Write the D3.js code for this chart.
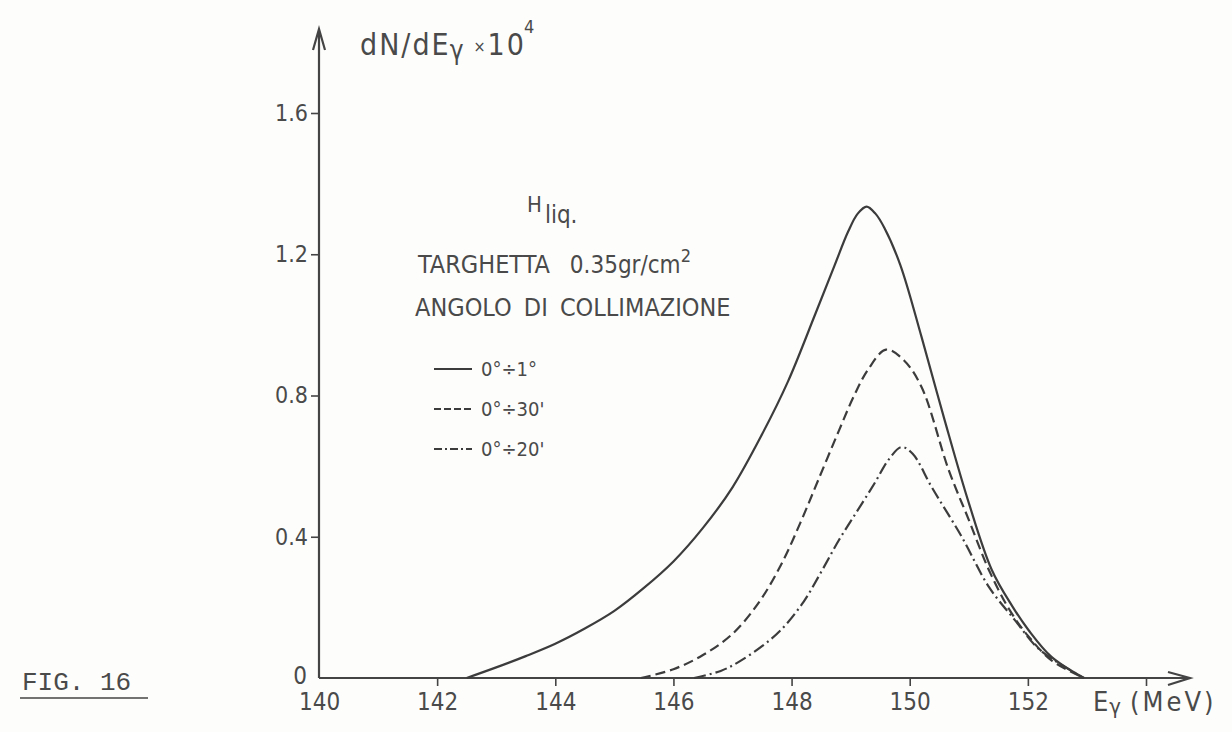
<!DOCTYPE html>
<html>
<head>
<meta charset="utf-8">
<script src="https://cdn.jsdelivr.net/npm/d3@7"></script>
<style>
    body { margin: 0; background: #fdfdfc; }
    svg text { font-family: "DejaVu Sans", sans-serif; font-stretch: condensed; fill: #4a4a4a; }
    .axis line { stroke: #444; stroke-width: 1.6; }
    .fig-label { font-family: "Liberation Mono", "DejaVu Sans Mono", monospace !important; font-stretch: normal !important; font-size: 26px; }
</style>
</head>
<body>
<svg id="chart"></svg>
<script>
// Photon spectrum dN/dE (x10^4) for three collimation angles
const xTicks = [140, 142, 144, 146, 148, 150, 152, 154];
const yTicks = [0, 0.4, 0.8, 1.2, 1.6];

const seriesNames = ['0°÷1°', '0°÷30\'', '0°÷20\''];

const energySolid = [142.5, 143.0, 143.5, 144.0, 144.5, 145.0, 145.5, 146.0, 146.5, 147.0, 147.5, 147.94, 148.4, 148.72, 148.96, 149.12, 149.27, 149.42, 149.57, 149.84, 150.2, 150.59, 151.0, 151.39, 151.73, 152.01, 152.4, 152.95];
const valuesSolid = [0, 0.03, 0.062, 0.097, 0.14, 0.19, 0.255, 0.33, 0.425, 0.54, 0.69, 0.84, 1.03, 1.165, 1.265, 1.315, 1.335, 1.315, 1.275, 1.17, 0.966, 0.731, 0.496, 0.306, 0.205, 0.136, 0.06, 0];

const energyDashed = [145.45, 146.0, 146.5, 147.0, 147.45, 147.82, 148.15, 148.45, 148.8, 149.06, 149.3, 149.6, 149.9, 150.2, 150.66, 151.0, 151.34, 151.7, 152.0, 152.4, 152.95];
const valuesDashed = [0, 0.025, 0.065, 0.125, 0.215, 0.32, 0.44, 0.56, 0.70, 0.80, 0.875, 0.93, 0.90, 0.824, 0.589, 0.448, 0.306, 0.19, 0.12, 0.05, 0];

const energyDashDot = [146.35, 146.8, 147.1, 147.5, 147.82, 148.2, 148.5, 148.8, 149.1, 149.4, 149.65, 149.86, 150.05, 150.37, 150.88, 151.34, 151.78, 152.2, 152.95];
const valuesDashDot = [0, 0.02, 0.045, 0.09, 0.136, 0.215, 0.30, 0.39, 0.47, 0.55, 0.62, 0.654, 0.635, 0.541, 0.40, 0.258, 0.164, 0.08, 0];

class SpectrumChart {
    constructor(_config) {
        this.config = {
            parentElement: _config.svgElement,
            width: _config.width,
            height: _config.height
        };
        this.series = [
            { name: seriesNames[0], x: energySolid, y: valuesSolid, dash: null, legendDash: null },
            { name: seriesNames[1], x: energyDashed, y: valuesDashed, dash: '10,5', legendDash: '7,3' },
            { name: seriesNames[2], x: energyDashDot, y: valuesDashDot, dash: '12,4,2,4', legendDash: '8,3,2,3' }
        ];
        this.initVis();
    }

    initVis() {
        let vis = this;

        vis.svg = d3.select(vis.config.parentElement)
            .attr('width', vis.config.width)
            .attr('height', vis.config.height);

        vis.xScale = d3.scaleLinear().domain([140, 154]).range([319, 1146]);
        vis.yScale = d3.scaleLinear().domain([0, 1.6]).range([678, 113]);

        vis.xAxis = d3.axisBottom(vis.xScale)
            .tickValues(xTicks)
            .tickSize(8)
            .tickFormat(d => d === 154 ? '' : d);
        vis.yAxis = d3.axisLeft(vis.yScale)
            .tickValues(yTicks)
            .tickSize(8)
            .tickPadding(3)
            .tickFormat(d => d === 0 ? '0' : d3.format('.1f')(d));

        // smooth hand-drawn look, passes through the read points
        vis.line = d3.line()
            .x(d => vis.xScale(d[0]))
            .y(d => vis.yScale(d[1]))
            .curve(d3.curveCatmullRom.alpha(0.5));

        vis.renderVis();
    }

    renderVis() {
        let vis = this;
        const x0 = vis.xScale(140), y0 = vis.yScale(0);

        // axes, drawn without the library's domain path
        const xAxisG = vis.svg.append('g')
            .attr('class', 'axis x-axis')
            .attr('transform', `translate(0,${y0})`)
            .call(vis.xAxis);
        xAxisG.select('.domain').remove();
        xAxisG.selectAll('.tick').filter(d => d === 140).select('line').remove();
        xAxisG.selectAll('text')
            .attr('y', 32).attr('dy', 0)
            .style('font-size', '24px');

        const yAxisG = vis.svg.append('g')
            .attr('class', 'axis y-axis')
            .attr('transform', `translate(${x0},0)`)
            .call(vis.yAxis);
        yAxisG.select('.domain').remove();
        yAxisG.selectAll('text').style('font-size', '23px');
        yAxisG.selectAll('.tick').filter(d => d === 0).select('line').remove();
        yAxisG.selectAll('.tick').filter(d => d === 0).select('text')
            .attr('x', -12).attr('dy', '0.22em').style('font-size', '24px');

        // axis lines with open arrow heads
        vis.svg.append('path')
            .attr('d', `M${x0},${y0}H1190M1168,672L1190,${y0}L1168,685`)
            .attr('fill', 'none').attr('stroke', '#444').attr('stroke-width', 2.2);
        vis.svg.append('path')
            .attr('d', `M${x0},${y0}V29M${x0 - 6},50L${x0},29L${x0 + 6},50`)
            .attr('fill', 'none').attr('stroke', '#444').attr('stroke-width', 2.2);

        // curves
        vis.svg.selectAll('.curve')
            .data(vis.series)
            .join('path')
            .attr('class', 'curve')
            .attr('d', s => vis.line(s.x.map((e, i) => [e, s.y[i]])))
            .attr('fill', 'none')
            .attr('stroke', '#3c3c3c')
            .attr('stroke-width', 2.2)
            .attr('stroke-dasharray', s => s.dash);

        // axis titles
        const yTitle = vis.svg.append('text').attr('x', 360).attr('y', 55)
            .style('font-size', '30px').style('letter-spacing', '2px');
        yTitle.append('tspan').text('dN/dE');
        yTitle.append('tspan').attr('dx', -1).attr('dy', 4).style('font-size', '26px').text('γ');
        yTitle.append('tspan').attr('dx', 8).attr('dy', -7).style('font-size', '16px').text('×');
        yTitle.append('tspan').attr('dy', 3).text('10');
        yTitle.append('tspan').attr('dx', -2).attr('dy', -22).style('font-size', '18px').text('4');

        const xTitle = vis.svg.append('text').attr('x', 1093).attr('y', 711).style('font-size', '27px');
        xTitle.append('tspan').text('E');
        xTitle.append('tspan').attr('dx', 1).attr('dy', 3).style('font-size', '22px').text('γ');
        xTitle.append('tspan').attr('dx', 9).attr('dy', -3).style('letter-spacing', '3px').text('(MeV)');

        // annotation block
        const h = vis.svg.append('text').attr('x', 527).attr('y', 212).style('font-size', '22px');
        h.append('tspan').text('H');
        h.append('tspan').attr('dy', 11).attr('dx', 3).style('font-size', '24px').text('liq.');

        const t = vis.svg.append('text').attr('x', 418).attr('y', 273).style('font-size', '25px');
        t.append('tspan').text('TARGHETTA');
        t.append('tspan').attr('dx', 20).style('font-size', '24px').text('0.35gr/cm');
        t.append('tspan').attr('dy', -11).style('font-size', '18px').text('2');

        vis.svg.append('text').attr('x', 415).attr('y', 316).style('font-size', '25px')
            .style('word-spacing', '5px')
            .text('ANGOLO DI COLLIMAZIONE');

        // legend
        const legendY = [369, 409, 449];
        const legend = vis.svg.selectAll('.legend')
            .data(vis.series)
            .join('g')
            .attr('class', 'legend')
            .attr('transform', (s, i) => `translate(434,${legendY[i]})`);
        legend.append('line')
            .attr('x1', 0).attr('x2', 38)
            .attr('stroke', '#3c3c3c').attr('stroke-width', 1.8)
            .attr('stroke-dasharray', s => s.legendDash);
        legend.append('text')
            .attr('x', 47).attr('dy', '0.36em')
            .style('font-size', '20px')
            .text(s => s.name);

        // figure caption
        vis.svg.append('text')
            .attr('class', 'fig-label')
            .attr('x', 22).attr('y', 690)
            .text('FIG. 16');
        vis.svg.append('line')
            .attr('x1', 20).attr('x2', 148).attr('y1', 698).attr('y2', 698)
            .attr('stroke', '#444').attr('stroke-width', 1.6);
    }
}

new SpectrumChart({ svgElement: '#chart', width: 1232, height: 732 });
</script>
</body>
</html>
